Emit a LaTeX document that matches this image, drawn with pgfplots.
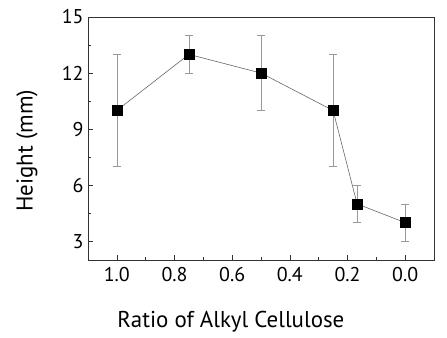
\documentclass[border=0pt]{standalone}
\usepackage{fontspec}
\setmainfont{PT Sans}
\usepackage{pgfplots}
\pgfplotsset{compat=1.18}
\begin{document}
\begin{tikzpicture}[x=1bp,y=1bp]
\useasboundingbox (0,0) rectangle (447,337);
\begin{axis}[
  at={(88bp,77bp)}, anchor=south west,
  scale only axis, width=346bp, height=243bp,
  x dir=reverse,
  xmin=-0.1, xmax=1.1, ymin=2, ymax=15,
  xtick={0,0.2,0.4,0.6,0.8,1.0},
  minor xtick={0.1,0.3,0.5,0.7,0.9},
  ytick={3,6,9,12,15},
  minor ytick={4.5,7.5,10.5,13.5},
  xticklabel style={/pgf/number format/fixed,/pgf/number format/fixed zerofill,/pgf/number format/precision=1, yshift=-4bp},
  yticklabel style={xshift=-1bp},
  xtick pos=lower, ytick pos=left,
  tick align=inside,
  major tick length=5bp, minor tick length=3bp,
  axis line style={draw=black!80, line width=0.8pt},
  every tick/.style={black!80, line width=0.6pt},
  /pgf/number format/assume math mode=true,
  tick label style={font=\fontsize{20}{24}\selectfont},
  label style={font=\fontsize{23}{26}\selectfont},
  xlabel={Ratio of Alkyl Cellulose},
  ylabel={Height (mm)},
  xlabel style={at={(axis description cs:0.413,-0.255)}, anchor=center},
  ylabel style={at={(axis description cs:-0.176,0.45)}, anchor=center, rotate=0},
]
\addplot[draw=black!60, line width=0.6pt, mark=square*, mark size=5bp,
  mark options={fill=black, draw=black, solid},
  error bars/.cd, y dir=both, y explicit,
  error bar style={draw=black!40, line width=0.6pt},
  error mark options={rotate=90, mark size=4bp, draw=black!40, line width=0.6pt}]
coordinates {
  (1.0,10) +- (0,3)
  (0.75,13) +- (0,1)
  (0.5,12) +- (0,2)
  (0.25,10) +- (0,3)
  (0.1667,5) +- (0,1)
  (0.0,4) +- (0,1)
};
\end{axis}
\end{tikzpicture}
\end{document}
